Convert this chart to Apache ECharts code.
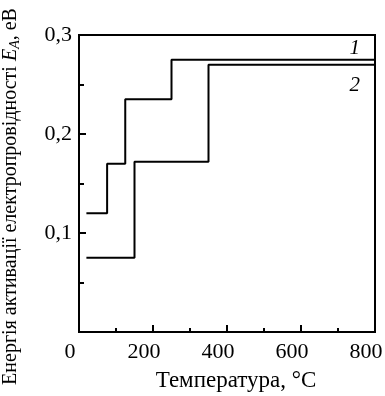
<!DOCTYPE html>
<html>
<head>
<meta charset="utf-8">
<script src="https://cdn.jsdelivr.net/npm/echarts@6/dist/echarts.min.js"></script>
<style>
  html, body { margin: 0; padding: 0; background: #fff; }
  #chart { width: 385px; height: 396px; }
</style>
</head>
<body>
<div id="chart"></div>
<script>
// temperature (°C) where each step starts, and activation energy (eV)
const curve1T = [20, 76, 125, 250, 800];
const curve1E = [0.12, 0.17, 0.235, 0.275, 0.275];
const curve2T = [20, 150, 350, 800];
const curve2E = [0.075, 0.172, 0.27, 0.27];
const curveNames = ["1", "2"];
const labelT = [745, 745];
const labelE = [0.286, 0.249];

const FONT = "Liberation Serif";

const chart = echarts.init(document.getElementById("chart"));

const pairs = (xs, ys) => xs.map((x, i) => [x, ys[i]]);

const curveLabel = (i) => ({
  symbol: "circle",
  symbolSize: 1,
  itemStyle: { color: "rgba(0,0,0,0)" },
  label: {
    show: true, position: "inside", formatter: curveNames[i],
    fontFamily: FONT, fontSize: 21, fontStyle: "italic", color: "#000",
  },
  data: [{ coord: [labelT[i], labelE[i]] }],
});

const option = {
  backgroundColor: "#fff",
  animation: false,
  grid: {
    left: 79, right: 10, top: 35, bottom: 64,
    outerBoundsMode: "none",
    containLabel: false,
    show: true, borderColor: "#000", borderWidth: 2,
  },
  xAxis: {
    type: "value",
    min: 0, max: 800, interval: 200,
    name: "Температура, °C",
    nameLocation: "middle",
    nameGap: 37,
    nameTextStyle: { fontFamily: FONT, fontSize: 23, color: "#000", padding: [0, 0, 0, 18] },
    axisLine: { show: true, lineStyle: { color: "#000", width: 2 } },
    axisTick: { show: true, inside: true, length: 7, lineStyle: { color: "#000", width: 2 } },
    minorTick: { show: true, splitNumber: 2, length: 4, lineStyle: { color: "#000", width: 2 } },
    splitLine: { show: false },
    axisLabel: {
      fontFamily: FONT, fontSize: 22, color: "#000", margin: 9,
      padding: [0, 18, 0, 0],
    },
  },
  yAxis: {
    type: "value",
    min: 0, max: 0.3, interval: 0.1,
    name: "{a|Енергія активації електропровідності }{i|E}{s|A}{a|, еВ}",
    nameLocation: "middle",
    nameRotate: 90,
    nameGap: 57,
    nameTextStyle: {
      color: "#000",
      padding: [0, 26, 0, 0],
      rich: {
        a: { fontFamily: FONT, fontSize: 20, color: "#000" },
        i: { fontFamily: FONT, fontSize: 20, fontStyle: "italic", color: "#000" },
        s: { fontFamily: FONT, fontSize: 14, fontStyle: "italic", color: "#000", padding: [8, 0, 0, 0] },
      },
    },
    axisLine: { show: true, lineStyle: { color: "#000", width: 2 } },
    axisTick: { show: true, inside: true, length: 7, lineStyle: { color: "#000", width: 2 } },
    minorTick: { show: true, splitNumber: 2, length: 5, lineStyle: { color: "#000", width: 2 } },
    splitLine: { show: false },
    axisLabel: {
      fontFamily: FONT, fontSize: 22, color: "#000", margin: 7,
      padding: [6, 0, 0, 0],
      formatter: (v) => (v === 0 ? "" : v.toFixed(1).replace(".", ",")),
    },
  },
  series: [
    {
      name: curveNames[0],
      type: "line",
      step: "end",
      data: pairs(curve1T, curve1E),
      showSymbol: false,
      lineStyle: { color: "#000", width: 2 },
      markPoint: curveLabel(0),
    },
    {
      name: curveNames[1],
      type: "line",
      step: "end",
      data: pairs(curve2T, curve2E),
      showSymbol: false,
      lineStyle: { color: "#000", width: 2 },
      markPoint: curveLabel(1),
    },
  ],
};

chart.setOption(option);
</script>
</body>
</html>
